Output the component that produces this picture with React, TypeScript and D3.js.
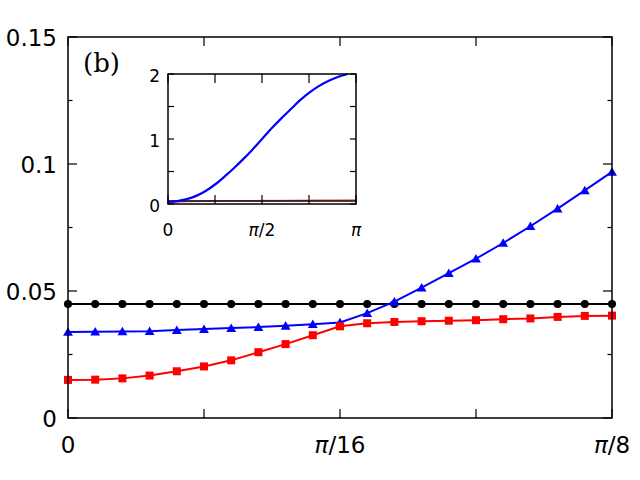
import React, { useRef, useEffect } from 'react';
import * as d3 from 'd3';

// main panel: 21 samples between 0 and pi/8
const steps = d3.range(21);
const blackVals = [
  0.0449, 0.0449, 0.0449, 0.0449, 0.0449, 0.0449, 0.0449, 0.0449, 0.0449, 0.0449, 0.0449,
  0.0449, 0.0449, 0.0449, 0.0449, 0.0449, 0.0449, 0.0449, 0.0449, 0.0449, 0.0449,
];
const blueVals = [
  0.0339, 0.034, 0.0341, 0.0342, 0.0346, 0.035, 0.0354, 0.0358, 0.0363, 0.0369, 0.0376,
  0.0413, 0.0458, 0.0513, 0.057, 0.0627, 0.0689, 0.0755, 0.0824, 0.0896, 0.0969,
];
const redVals = [
  0.015, 0.0151, 0.0156, 0.0167, 0.0184, 0.0203, 0.0227, 0.0259, 0.0291, 0.0326, 0.0361,
  0.0373, 0.0378, 0.0381, 0.0383, 0.0385, 0.0389, 0.0392, 0.0398, 0.0402, 0.0403,
];
const yTicks = [0, 0.025, 0.05, 0.075, 0.1, 0.125, 0.15];
const yLabels = ['0', '', '0.05', '', '0.1', '', '0.15'];
const xTicks = [0, 5, 10, 15, 20];
const xLabels = [['0', ''], ['', ''], ['π', '/16'], ['', ''], ['π', '/8']];

// inset: phase in units of pi
const insetBluePhase = [
  0, 0.05, 0.1, 0.15, 0.2, 0.25, 0.3, 0.35, 0.4, 0.45, 0.5, 0.55, 0.6, 0.65, 0.7, 0.75, 0.8,
  0.85, 0.9, 0.955,
];
const insetBlueVals = [
  0.034, 0.045, 0.075, 0.125, 0.2, 0.3, 0.42, 0.55, 0.69, 0.84, 1.0, 1.16, 1.31, 1.45, 1.59, 1.71,
  1.81, 1.89, 1.95, 2.0,
];
const insetRedPhase = [0, 0.05, 0.1, 0.2, 0.4, 0.6, 0.8, 1.0];
const insetRedVals = [0.015, 0.03, 0.04, 0.045, 0.05, 0.055, 0.06, 0.065];
const insetBlackPhase = [0, 1];
const insetBlackVals = [0.045, 0.045];
const insetXTicks = [0, 0.25, 0.5, 0.75, 1];
const insetXLabels = [['0', ''], ['', ''], ['π', '/2'], ['', ''], ['π', '']];
const insetYTicks = [0, 0.5, 1, 1.5, 2];
const insetYLabels = ['0', '', '1', '', '2'];

export default function App() {
  const svgRef = useRef<SVGSVGElement | null>(null);

  useEffect(() => {
    const width = 640;
    const height = 480;
    const m = { left: 68, right: 612, top: 37, bottom: 418 };
    const font = 'DejaVu Sans';

    d3.select(svgRef.current).selectAll('*').remove();
    const svg = d3.select(svgRef.current).attr('width', width).attr('height', height);

    svg.append('rect').attr('width', width).attr('height', height).attr('fill', 'white');

    const x = d3.scaleLinear().domain([0, 20]).range([m.left, m.right]);
    const y = d3.scaleLinear().domain([0, 0.15]).range([m.bottom, m.top]);

    // ticks
    yTicks.forEach((t, i) => {
      const len = yLabels[i] ? 9 : 4.5;
      [[m.left, len], [m.right, -len]].forEach(([x0, d]) => {
        svg.append('line')
          .attr('x1', x0).attr('x2', x0 + d)
          .attr('y1', y(t)).attr('y2', y(t))
          .attr('stroke', 'black').attr('stroke-width', 1.2);
      });
      if (yLabels[i]) {
        svg.append('text')
          .attr('x', m.left - 11).attr('y', y(t) + 8.5)
          .attr('text-anchor', 'end')
          .attr('font-family', font).attr('font-size', 23)
          .text(yLabels[i]);
      }
    });

    xTicks.forEach((t, i) => {
      [[m.bottom, -9], [m.top, 9]].forEach(([y0, d]) => {
        svg.append('line')
          .attr('x1', x(t)).attr('x2', x(t))
          .attr('y1', y0).attr('y2', y0 + d)
          .attr('stroke', 'black').attr('stroke-width', 1.2);
      });
      const [a, b] = xLabels[i];
      if (a || b) {
        const txt = svg.append('text')
          .attr('x', x(t)).attr('y', m.bottom + 35)
          .attr('text-anchor', 'middle')
          .attr('font-family', font).attr('font-size', 23);
        if (a === 'π') {
          txt.append('tspan').attr('font-style', 'italic').text(a);
          txt.append('tspan').text(b);
        } else {
          txt.text(a);
        }
      }
    });

    const line = d3.line<number>().x((_, i) => x(steps[i])).y((d) => y(d));

    // black circles
    svg.append('path').attr('d', line(blackVals)).attr('fill', 'none')
      .attr('stroke', 'black').attr('stroke-width', 2);
    svg.selectAll('.bc').data(blackVals).enter().append('circle')
      .attr('cx', (_, i) => x(steps[i])).attr('cy', (d) => y(d))
      .attr('r', 4).attr('fill', 'black');

    // blue triangles
    svg.append('path').attr('d', line(blueVals)).attr('fill', 'none')
      .attr('stroke', '#0000ff').attr('stroke-width', 2);
    svg.selectAll('.bt').data(blueVals).enter().append('path')
      .attr('d', d3.symbol(d3.symbolTriangle, 42)())
      .attr('transform', (d, i) => `translate(${x(steps[i])},${y(d) + 1})`)
      .attr('fill', '#0000ff');

    // red squares
    svg.append('path').attr('d', line(redVals)).attr('fill', 'none')
      .attr('stroke', '#ff0000').attr('stroke-width', 2);
    svg.selectAll('.rs').data(redVals).enter().append('rect')
      .attr('x', (_, i) => x(steps[i]) - 4).attr('y', (d) => y(d) - 4)
      .attr('width', 8).attr('height', 8).attr('fill', '#ff0000');

    // frame
    svg.append('rect')
      .attr('x', m.left).attr('y', m.top)
      .attr('width', m.right - m.left).attr('height', m.bottom - m.top)
      .attr('fill', 'none').attr('stroke', 'black').attr('stroke-width', 1.5);

    svg.append('text')
      .attr('x', 83).attr('y', 72)
      .attr('font-family', 'DejaVu Serif').attr('font-size', 26)
      .text('(b)');

    // inset
    const im = { left: 168, right: 356, top: 74, bottom: 204 };
    const ix = d3.scaleLinear().domain([0, 1]).range([im.left, im.right]);
    const iy = d3.scaleLinear().domain([0, 2]).range([im.bottom, im.top]);

    svg.append('rect')
      .attr('x', im.left).attr('y', im.top)
      .attr('width', im.right - im.left).attr('height', im.bottom - im.top)
      .attr('fill', 'white');

    insetYTicks.forEach((t, i) => {
      [[im.left, 6], [im.right, -6]].forEach(([x0, d]) => {
        svg.append('line')
          .attr('x1', x0).attr('x2', x0 + d)
          .attr('y1', iy(t)).attr('y2', iy(t))
          .attr('stroke', 'black').attr('stroke-width', 1.2);
      });
      if (insetYLabels[i]) {
        svg.append('text')
          .attr('x', im.left - 8).attr('y', iy(t) + 7.5)
          .attr('text-anchor', 'end')
          .attr('font-family', font).attr('font-size', 17)
          .text(insetYLabels[i]);
      }
    });

    insetXTicks.forEach((t, i) => {
      [[im.bottom, -9], [im.top, 9]].forEach(([y0, d]) => {
        svg.append('line')
          .attr('x1', ix(t)).attr('x2', ix(t))
          .attr('y1', y0).attr('y2', y0 + d)
          .attr('stroke', 'black').attr('stroke-width', 1.2);
      });
      const [a, b] = insetXLabels[i];
      if (a || b) {
        const txt = svg.append('text')
          .attr('x', ix(t)).attr('y', im.bottom + 32)
          .attr('text-anchor', 'middle')
          .attr('font-family', font).attr('font-size', 17);
        if (a === 'π') {
          txt.append('tspan').attr('font-style', 'italic').text(a);
          if (b) txt.append('tspan').text(b);
        } else {
          txt.text(a);
        }
      }
    });

    const iline = (phase: number[]) =>
      d3.line<number>().x((_, i) => ix(phase[i])).y((d) => iy(d)).curve(d3.curveCatmullRom);

    svg.append('path').attr('d', iline(insetRedPhase)(insetRedVals)).attr('fill', 'none')
      .attr('stroke', '#ff0000').attr('stroke-width', 1.5).attr('opacity', 0.5);
    svg.append('path').attr('d', iline(insetBlackPhase)(insetBlackVals)).attr('fill', 'none')
      .attr('stroke', 'black').attr('stroke-width', 1.5);
    svg.append('path').attr('d', iline(insetBluePhase)(insetBlueVals)).attr('fill', 'none')
      .attr('stroke', '#0000ff').attr('stroke-width', 2.2);

    svg.append('rect')
      .attr('x', im.left).attr('y', im.top)
      .attr('width', im.right - im.left).attr('height', im.bottom - im.top)
      .attr('fill', 'none').attr('stroke', 'black').attr('stroke-width', 1.5);
  }, []);

  return <svg ref={svgRef} style={{ position: 'absolute', left: 0, top: 0 }}></svg>;
}
